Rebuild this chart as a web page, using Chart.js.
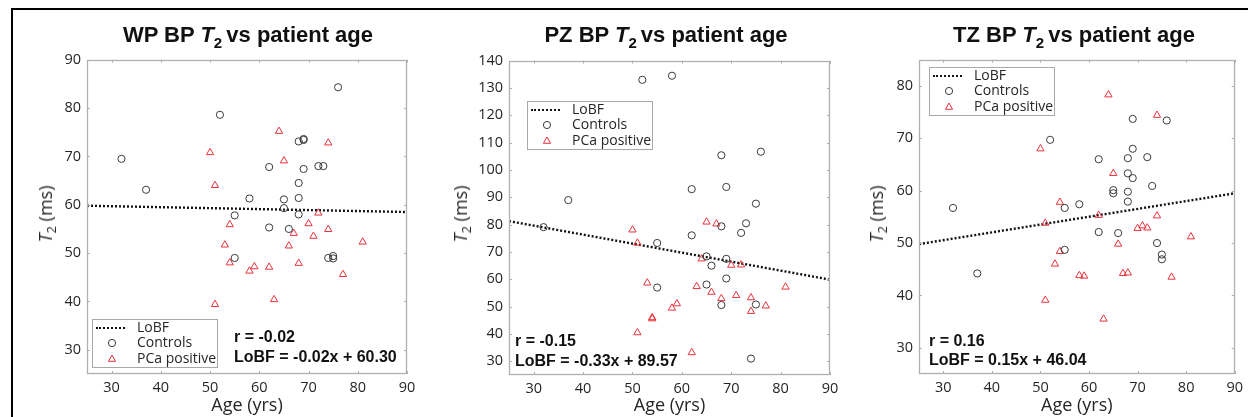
<!DOCTYPE html>
<html>
<head>
<meta charset="utf-8">
<script src="https://cdn.jsdelivr.net/npm/chart.js@4/dist/chart.umd.min.js"></script>
<style>
  body { margin: 0; width: 1248px; height: 417px; background: #fff; overflow: hidden; position: relative; }
  canvas { position: absolute; }
  .frame { position: absolute; left: 11px; top: 8px; width: 1240px; height: 420px; border-left: 2px solid #000; border-top: 2px solid #000; }
  .title { position: absolute; transform: translate(-50%, -50%); font: bold 22px "Liberation Sans", Arial, sans-serif; color: #111; white-space: nowrap; }
  .title sub { font-size: 15px; vertical-align: -6px; line-height: 0; margin-right: -2px; }
  .ylab { position: absolute; transform: translate(-50%, -50%) rotate(-90deg); font: 18px "Open Sans", sans-serif; color: #262626; white-space: nowrap; }
  .ylab sub { font-size: 13px; vertical-align: -4px; line-height: 0; }
  .note { position: absolute; font: bold 16px "Liberation Sans", Arial, sans-serif; color: #111; white-space: nowrap; transform: translateY(-50%); }
  .legend { position: absolute; width: 124px; height: 47px; border: 1px solid #a8a8a8; background: #fff; font: 14px "Open Sans", sans-serif; color: #262626; }
  .legend .row { position: absolute; left: 0; height: 16px; width: 100%; transform: translateY(-50%); }
  .legend .txt { position: absolute; left: 44px; top: -1px; line-height: 16px; }
  .legend .line { position: absolute; left: 3px; top: 7px; width: 29px; border-top: 2.5px dotted #111; }
  .legend svg { position: absolute; left: 13px; top: 3px; }
</style>
</head>
<body>
<div class="frame"></div>
<canvas id="wp"></canvas>
<canvas id="pz"></canvas>
<canvas id="tz"></canvas>
<script>
// tick labels
const ageTicks = [30, 40, 50, 60, 70, 80, 90];
const wpT2Ticks = [30, 40, 50, 60, 70, 80, 90];
const pzT2Ticks = [30, 40, 50, 60, 70, 80, 90, 100, 110, 120, 130, 140];
const tzT2Ticks = [30, 40, 50, 60, 70, 80];

// WP (whole prostate)
const wpCtrlAge = [32, 37, 52, 55, 55, 58, 62, 62, 65, 65, 66, 68, 68, 68, 68, 69, 69, 69, 72, 73, 74, 75, 75, 76];
const wpCtrlT2 = [69.5, 63.1, 78.6, 57.8, 49.0, 61.3, 67.8, 55.3, 61.1, 59.3, 55.0, 73.1, 64.5, 61.4, 58.0, 73.4, 73.6, 67.4, 68.0, 68.0, 49.0, 49.4, 48.9, 84.3];
const wpPcaAge = [50, 51, 51, 53, 54, 54, 58, 59, 62, 63, 64, 65, 66, 67, 68, 70, 71, 72, 74, 74, 77, 81];
const wpPcaT2 = [70.8, 64.0, 39.4, 51.7, 55.9, 48.0, 46.3, 47.2, 47.1, 40.4, 75.2, 69.1, 51.5, 54.1, 47.9, 56.1, 53.5, 58.3, 72.8, 54.9, 45.6, 52.3];
const wpLobfAge = [25, 90];
const wpLobfT2 = [59.8, 58.5];

// PZ (peripheral zone)
const pzCtrlAge = [32, 37, 52, 58, 55, 55, 62, 62, 65, 65, 66, 68, 68, 68, 69, 69, 69, 72, 73, 74, 75, 75, 76];
const pzCtrlT2 = [79.1, 89.0, 133.0, 134.5, 73.3, 57.0, 93.0, 76.1, 68.4, 58.1, 65.0, 105.4, 79.4, 50.6, 93.8, 67.5, 60.3, 77.0, 80.5, 31.0, 87.7, 50.8, 106.7];
const pzPcaAge = [50, 51, 51, 53, 54, 54, 58, 59, 62, 63, 64, 65, 66, 67, 68, 70, 71, 72, 74, 74, 77, 81];
const pzPcaT2 = [78.1, 73.3, 40.5, 58.7, 45.6, 46.0, 49.5, 51.1, 33.2, 57.4, 67.5, 81.0, 55.3, 80.3, 53.0, 65.2, 54.1, 65.3, 53.3, 48.3, 50.3, 57.2];
const pzLobfAge = [25, 90];
const pzLobfT2 = [81.3, 59.9];

// TZ (transition zone)
const tzCtrlAge = [32, 37, 52, 55, 55, 58, 62, 62, 65, 65, 66, 68, 68, 68, 68, 69, 69, 69, 72, 73, 74, 75, 75, 76];
const tzCtrlT2 = [56.7, 44.2, 69.7, 56.7, 48.7, 57.4, 66.0, 52.1, 60.1, 59.5, 51.9, 66.2, 63.3, 59.8, 57.9, 73.7, 68.0, 62.4, 66.4, 60.9, 50.0, 47.8, 46.9, 73.4];
const tzPcaAge = [50, 51, 51, 53, 54, 54, 58, 59, 62, 63, 64, 65, 66, 67, 68, 70, 71, 72, 74, 74, 77, 81];
const tzPcaT2 = [68.0, 53.8, 39.1, 46.0, 57.8, 48.4, 43.8, 43.7, 55.3, 35.5, 78.3, 63.3, 49.8, 44.2, 44.3, 52.8, 53.3, 52.9, 74.4, 55.2, 43.5, 51.2];
const tzLobfAge = [25, 90];
const tzLobfT2 = [49.8, 59.5];

const CTRL_COLOR = '#3a3a3a';
const PCA_COLOR = '#e8333d';
const TXT = '#262626';

const pts = (xs, ys) => xs.map((x, i) => ({ x: x, y: ys[i] }));

// MATLAB-like box with inward ticks on all four sides
const boxTicks = {
  id: 'boxTicks',
  afterDatasetsDraw(chart) {
    const { ctx, chartArea: a, scales: { x, y } } = chart;
    ctx.save();
    ctx.strokeStyle = '#b0b0b0';
    ctx.lineWidth = 1;
    ctx.beginPath();
    x.ticks.forEach(t => {
      const p = Math.round(x.getPixelForValue(t.value)) + 0.5;
      ctx.moveTo(p, a.bottom); ctx.lineTo(p, a.bottom - 3);
      ctx.moveTo(p, a.top); ctx.lineTo(p, a.top + 3);
    });
    y.ticks.forEach(t => {
      const p = Math.round(y.getPixelForValue(t.value)) + 0.5;
      ctx.moveTo(a.left, p); ctx.lineTo(a.left + 3, p);
      ctx.moveTo(a.right, p); ctx.lineTo(a.right - 3, p);
    });
    ctx.stroke();
    ctx.lineWidth = 1.3;
    ctx.strokeRect(Math.round(a.left) + 0.5, Math.round(a.top) + 0.5, Math.round(a.width) - 1, Math.round(a.height) - 1);
    ctx.restore();
  }
};

function makePanel(id, pos, d) {
  const cv = document.getElementById(id);
  cv.width = pos.w; cv.height = pos.h;
  cv.style.left = pos.left + 'px';
  cv.style.top = pos.top + 'px';
  new Chart(cv, {
    type: 'scatter',
    data: {
      datasets: [
        {
          label: 'Controls',
          data: pts(d.ctrlAge, d.ctrlT2),
          pointStyle: 'circle', pointRadius: 3.6, borderWidth: 1,
          borderColor: CTRL_COLOR, backgroundColor: 'rgba(0,0,0,0)'
        },
        {
          label: 'PCa positive',
          data: pts(d.pcaAge, d.pcaT2),
          pointStyle: 'triangle', pointRadius: 4.2, borderWidth: 1,
          borderColor: PCA_COLOR, backgroundColor: 'rgba(0,0,0,0)'
        },
        {
          label: 'LoBF',
          data: pts(d.lobfAge, d.lobfT2),
          showLine: true, pointRadius: 0, borderWidth: 2.4, borderDash: [2, 2],
          borderColor: '#111'
        }
      ]
    },
    options: {
      responsive: false,
      animation: false,
      layout: { autoPadding: false, padding: { top: 8, right: pos.padR, left: 0, bottom: 0 } },
      plugins: { legend: { display: false }, tooltip: { enabled: false } },
      scales: {
        x: {
          type: 'linear', position: 'bottom', min: 25, max: 90,
          afterBuildTicks: s => { s.ticks = ageTicks.map(v => ({ value: v })); },
          afterFit: s => { s.height = pos.xh; },
          grid: { display: false, drawTicks: false },
          border: { display: false },
          ticks: { padding: 5, color: TXT, font: { family: 'Open Sans', size: 14.5 } },
          title: { display: true, text: 'Age (yrs)', color: TXT, padding: 0, font: { family: 'Open Sans', size: 18 } }
        },
        y: {
          type: 'linear', position: 'left', min: 25, max: d.yMax,
          afterBuildTicks: s => { s.ticks = d.yTicks.map(v => ({ value: v })); },
          afterFit: s => { s.width = 47; },
          grid: { display: false, drawTicks: false },
          border: { display: false },
          ticks: { padding: 6, color: TXT, font: { family: 'Open Sans', size: 14.5 } }
        }
      }
    },
    plugins: [boxTicks]
  });
}

makePanel('wp', { left: 40, top: 45, w: 382, h: 372, padR: 15, xh: 43 },
  { ctrlAge: wpCtrlAge, ctrlT2: wpCtrlT2, pcaAge: wpPcaAge, pcaT2: wpPcaT2,
    lobfAge: wpLobfAge, lobfT2: wpLobfT2, yMax: 90, yTicks: wpT2Ticks });
makePanel('pz', { left: 462, top: 46, w: 383, h: 371, padR: 15, xh: 42 },
  { ctrlAge: pzCtrlAge, ctrlT2: pzCtrlT2, pcaAge: pzPcaAge, pcaT2: pzPcaT2,
    lobfAge: pzLobfAge, lobfT2: pzLobfT2, yMax: 140, yTicks: pzT2Ticks });
makePanel('tz', { left: 872, top: 45, w: 376, h: 372, padR: 9, xh: 43 },
  { ctrlAge: tzCtrlAge, ctrlT2: tzCtrlT2, pcaAge: tzPcaAge, pcaT2: tzPcaT2,
    lobfAge: tzLobfAge, lobfT2: tzLobfT2, yMax: 85, yTicks: tzT2Ticks });

// titles, y labels, notes and legends as html text
function addDiv(cls, html, left, top) {
  const el = document.createElement('div');
  el.className = cls;
  el.innerHTML = html;
  el.style.left = left + 'px';
  el.style.top = top + 'px';
  document.body.appendChild(el);
  return el;
}

const circleSvg = '<svg width="12" height="10"><circle cx="6" cy="5" r="3.6" fill="none" stroke="' + CTRL_COLOR + '" stroke-width="1"/></svg>';
const triSvg = '<svg width="12" height="10"><polygon points="6,1 9.6,7.3 2.4,7.3" fill="none" stroke="' + PCA_COLOR + '" stroke-width="1"/></svg>';

function addLegend(left, top) {
  const lg = addDiv('legend', '', left, top);
  lg.innerHTML =
    '<div class="row" style="top:8px"><div class="line"></div><span class="txt">LoBF</span></div>' +
    '<div class="row" style="top:23px">' + circleSvg + '<span class="txt">Controls</span></div>' +
    '<div class="row" style="top:39px">' + triSvg + '<span class="txt">PCa positive</span></div>';
}

addDiv('title', 'WP BP <i>T</i><sub>2</sub> vs patient age', 248, 35);
addDiv('title', 'PZ BP <i>T</i><sub>2</sub> vs patient age', 666, 35);
addDiv('title', 'TZ BP <i>T</i><sub>2</sub> vs patient age', 1074, 35);

addDiv('ylab', '<i>T</i><sub>2</sub> (ms)', 45, 214);
addDiv('ylab', '<i>T</i><sub>2</sub> (ms)', 460, 214);
addDiv('ylab', '<i>T</i><sub>2</sub> (ms)', 876, 214);

addDiv('note', 'r = -0.02', 234, 337);
addDiv('note', 'LoBF = -0.02x + 60.30', 234, 357);
addDiv('note', 'r = -0.15', 515, 341);
addDiv('note', 'LoBF = -0.33x + 89.57', 515, 361);
addDiv('note', 'r = 0.16', 929, 341);
addDiv('note', 'LoBF = 0.15x + 46.04', 929, 360);

addLegend(92, 319);
addLegend(527, 101);
addLegend(929, 67);
</script>
</body>
</html>
